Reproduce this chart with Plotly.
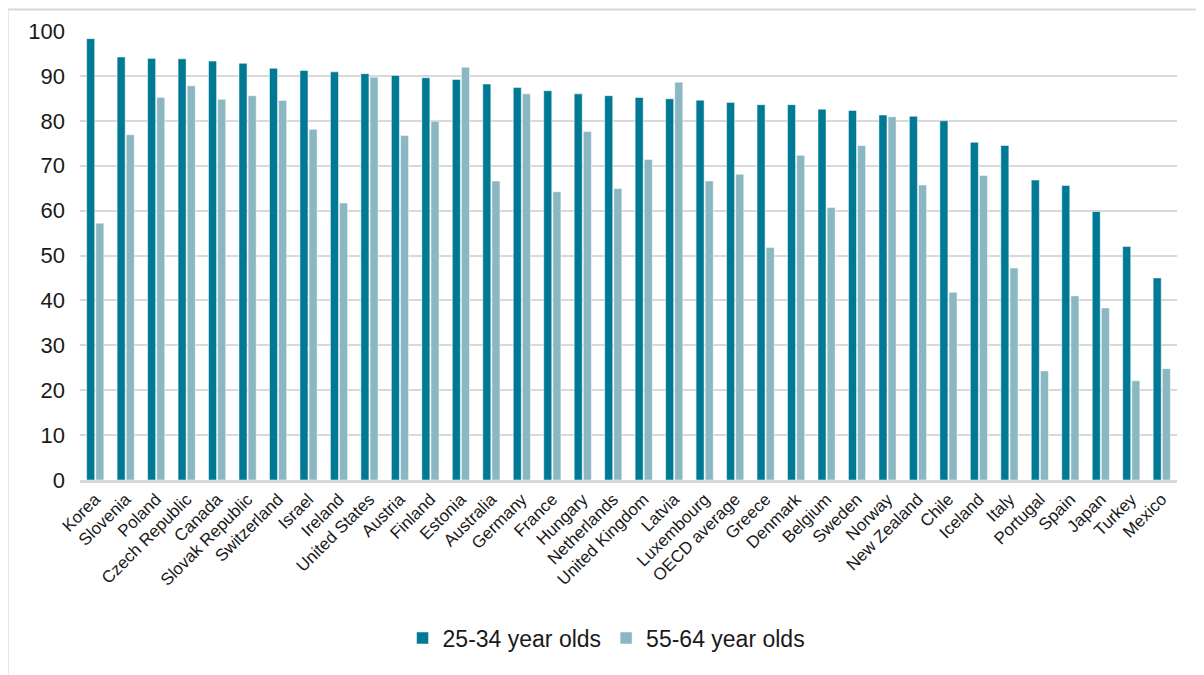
import plotly.graph_objects as go

countries = [
    "Korea", "Slovenia", "Poland", "Czech Republic", "Canada", "Slovak Republic",
    "Switzerland", "Israel", "Ireland", "United States", "Austria", "Finland",
    "Estonia", "Australia", "Germany", "France", "Hungary", "Netherlands",
    "United Kingdom", "Latvia", "Luxembourg", "OECD average", "Greece", "Denmark",
    "Belgium", "Sweden", "Norway", "New Zealand", "Chile", "Iceland", "Italy",
    "Portugal", "Spain", "Japan", "Turkey", "Mexico",
]
young = [
    98.3, 94.2, 93.9, 93.8, 93.3, 92.8, 91.7, 91.2, 90.9, 90.5, 90.1, 89.6,
    89.2, 88.2, 87.4, 86.7, 86.0, 85.6, 85.2, 84.9, 84.6, 84.1, 83.6, 83.6,
    82.6, 82.3, 81.3, 81.0, 80.0, 75.2, 74.5, 66.8, 65.6, 59.8, 52.0, 45.0,
]
older = [
    57.2, 76.9, 85.2, 87.8, 84.8, 85.6, 84.5, 78.1, 61.7, 89.7, 76.7, 79.9,
    91.9, 66.6, 86.0, 64.2, 77.6, 64.9, 71.4, 88.6, 66.6, 68.1, 51.8, 72.3,
    60.7, 74.5, 80.9, 65.7, 41.8, 67.8, 47.2, 24.3, 41.0, 38.3, 22.1, 24.8,
]

DARK = "#007A94"
LIGHT = "#8AB7C2"
FONT = "Liberation Sans, Arial, sans-serif"

fig = go.Figure()
fig.add_trace(go.Bar(x=countries, y=young, name="25-34 year olds",
                     marker=dict(color=DARK, line=dict(color="white", width=0.5))))
fig.add_trace(go.Bar(x=countries, y=older, name="55-64 year olds",
                     marker=dict(color=LIGHT, line=dict(color="white", width=0.5))))

# frame: only top and left edges are visible in the source
frame = dict(color="#D9D9D9", width=2)
shapes = [
    dict(type="line", xref="paper", yref="paper", x0=-0.066, x1=1.03,
         y0=1.048, y1=1.048, line=frame),
    dict(type="line", xref="paper", yref="paper", x0=-0.066, x1=-0.066,
         y0=-0.45, y1=1.048, line=frame),
]

# the page body adds an 8px offset, so margins are trimmed to compensate
fig.update_layout(
    width=1204,
    height=675,
    margin=dict(l=72, r=35, t=23, b=203),
    paper_bgcolor="white",
    plot_bgcolor="white",
    font=dict(family=FONT, color="#1a1a1a"),
    barmode="group",
    bargap=0.4,
    bargroupgap=0.12,
    showlegend=True,
    legend=dict(
        orientation="h", x=0.48, xanchor="center", y=-0.352, yanchor="middle",
        font=dict(size=23, family=FONT), itemwidth=30, traceorder="normal",
    ),
    shapes=shapes,
)

fig.update_xaxes(
    tickangle=-45,
    tickfont=dict(size=17, family=FONT),
    showline=True, linecolor="#D9D9D9", linewidth=2.5,
    ticks="", showgrid=False,
)
fig.update_yaxes(
    range=[0, 100], dtick=10,
    tickfont=dict(size=22, family=FONT),
    showgrid=True, gridcolor="#D9D9D9", gridwidth=1.5,
    zeroline=False, showline=False, ticks="", ticklabelstandoff=14,
)

fig.write_html("out.html")
